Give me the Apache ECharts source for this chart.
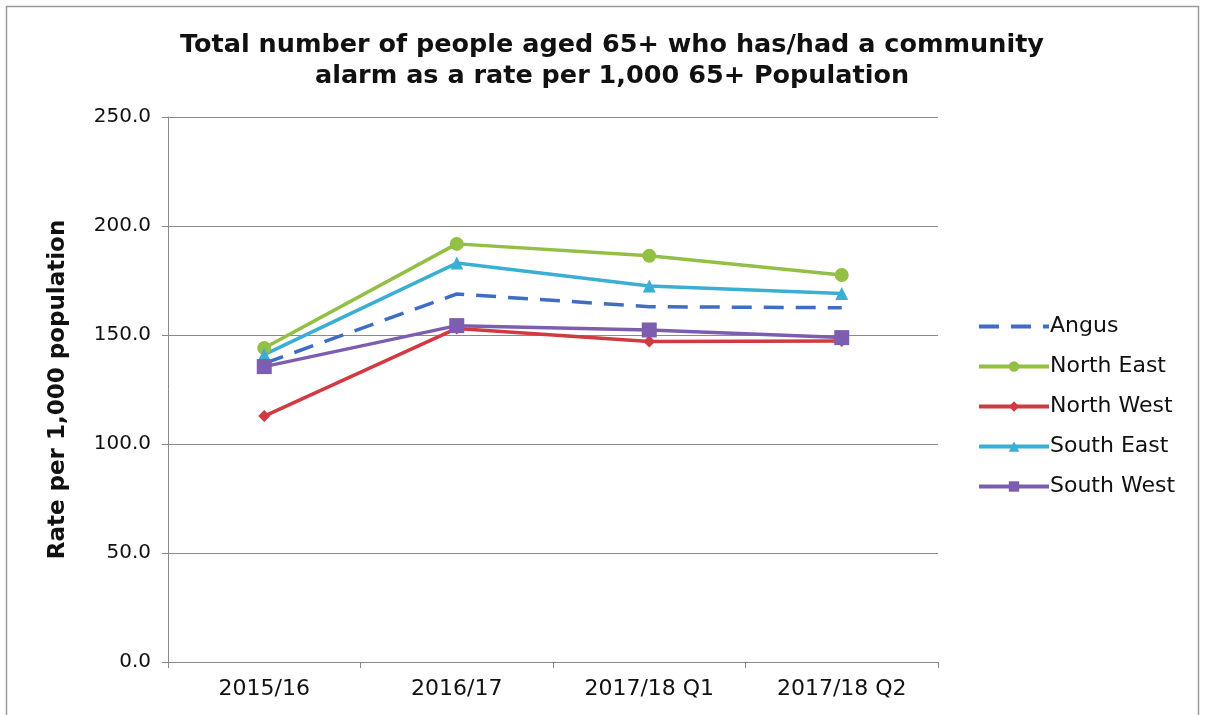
<!DOCTYPE html>
<html>
<head>
<meta charset="utf-8">
<script src="https://cdn.jsdelivr.net/npm/echarts@6/dist/echarts.min.js"></script>
<style>
  html, body { margin: 0; padding: 0; background: #fff; }
  #chart { width: 1207px; height: 715px; }
</style>
</head>
<body>
<div id="chart"></div>
<script>
// Community alarm rates per 1,000 people aged 65+, by locality
const categories = ['2015/16', '2016/17', '2017/18 Q1', '2017/18 Q2'];
const angus     = [137.0, 168.8, 163.0, 162.5];
const northEast = [144.0, 191.8, 186.3, 177.5];
const northWest = [112.8, 153.0, 147.0, 147.2];
const southEast = [141.0, 183.0, 172.5, 169.0];
const southWest = [135.5, 154.3, 152.3, 148.8];
const yTicks = { min: 0, max: 250, interval: 50 };

const FONT = '"DejaVu Sans", "Liberation Sans", Arial, sans-serif';

function lineSeries(name, data, color, symbol, size, dashed) {
  return {
    name: name,
    type: 'line',
    data: data,
    symbol: symbol,
    symbolSize: size,
    showSymbol: !dashed,
    color: color,
    lineStyle: { color: color, width: 3.5, type: dashed ? [20, 12] : 'solid' },
    itemStyle: { color: color },
    emphasis: { disabled: true },
    z: dashed ? 1 : 2
  };
}

const chart = echarts.init(document.getElementById('chart'), null, { renderer: 'canvas' });
chart.setOption({
  animation: false,
  backgroundColor: '#ffffff',
  title: {
    text: 'Total number of people aged 65+ who has/had a community\nalarm as a rate per 1,000 65+ Population',
    left: 607,
    textAlign: 'center',
    top: 25,
    textStyle: { fontFamily: FONT, fontSize: 25.5, fontWeight: 'bold', color: '#111', lineHeight: 31 }
  },
  legend: {
    orient: 'vertical',
    left: 972,
    top: 310,
    itemWidth: 70,
    itemHeight: 13,
    itemGap: 17,
    lineStyle: { width: 4 },
    textStyle: { fontFamily: FONT, fontSize: 22, lineHeight: 23, color: '#111', padding: [0, 0, 0, -4] },
    data: [
      { name: 'Angus', itemStyle: { opacity: 0 } },
      'North East', 'North West', 'South East', 'South West'
    ]
  },
  grid: { left: 168, right: 269, top: 117, bottom: 53, containLabel: false },
  xAxis: {
    type: 'category',
    data: categories,
    boundaryGap: true,
    axisLine: { lineStyle: { color: '#888', width: 1 } },
    axisTick: { show: true, length: 6, lineStyle: { color: '#888' } },
    axisLabel: { fontFamily: FONT, fontSize: 22, color: '#111', margin: 16 }
  },
  yAxis: {
    type: 'value',
    min: yTicks.min,
    max: yTicks.max,
    interval: yTicks.interval,
    name: 'Rate per 1,000 population',
    nameLocation: 'middle',
    nameGap: 98,
    nameTextStyle: { fontFamily: FONT, fontSize: 23, fontWeight: 'bold', color: '#111' },
    axisLine: { show: true, lineStyle: { color: '#888', width: 1 } },
    axisTick: { show: true, length: 6, lineStyle: { color: '#888' } },
    axisLabel: {
      fontFamily: FONT, fontSize: 20, color: '#111', margin: 17,
      formatter: v => v.toFixed(1)
    },
    splitLine: { show: true, lineStyle: { color: '#8a8a8a', width: 1 } }
  },
  graphic: [{
    type: 'rect',
    shape: { x: 6.5, y: 6.5, width: 1192, height: 720 },
    style: { fill: 'none', stroke: '#9a9a9a', lineWidth: 1.5 },
    silent: true
  }],
  series: [
    lineSeries('Angus', angus, '#3F6CC4', 'none', 0, true),
    lineSeries('North East', northEast, '#94BF45', 'circle', 14, false),
    lineSeries('North West', northWest, '#D03A40', 'diamond', 12, false),
    lineSeries('South East', southEast, '#3BAED4', 'triangle', 13, false),
    lineSeries('South West', southWest, '#7D5DB0', 'rect', 15, false)
  ]
});
</script>
</body>
</html>
